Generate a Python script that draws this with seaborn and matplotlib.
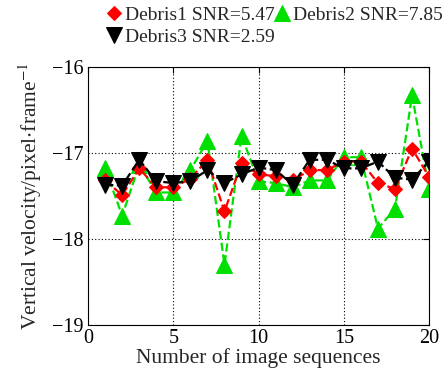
import matplotlib
matplotlib.use("Agg")
import matplotlib.pyplot as plt
import seaborn as sns
import pandas as pd

# Frame index of each image sequence
frames = list(range(1, 21))

# Vertical velocity estimates (pixel/frame) for each debris target
debris1 = [-17.32, -17.49, -17.18, -17.40, -17.40, -17.30, -17.08, -17.68, -17.12, -17.25,
           -17.27, -17.32, -17.20, -17.20, -17.10, -17.10, -17.35, -17.42, -16.95, -17.28]
debris2 = [-17.18, -17.73, -17.14, -17.46, -17.46, -17.20, -16.86, -18.30, -16.80, -17.33,
           -17.35, -17.40, -17.32, -17.32, -17.05, -17.05, -17.88, -17.65, -16.33, -17.42]
debris3 = [-17.37, -17.38, -17.08, -17.33, -17.35, -17.33, -17.20, -17.35, -17.25, -17.17,
           -17.20, -17.37, -17.08, -17.08, -17.18, -17.18, -17.10, -17.29, -17.31, -17.10]

labels = ["Debris1 SNR=5.47", "Debris2 SNR=7.85", "Debris3 SNR=2.59"]

sns.set_theme(style="white")
plt.rcParams["font.family"] = ["Liberation Serif", "DejaVu Serif"]
plt.rcParams["mathtext.fontset"] = "stix"

fig = plt.figure(figsize=(4.47, 3.76), dpi=100)
ax = fig.add_axes([0.197, 0.136, 0.763, 0.686])

styles = [
    (debris1, labels[0], "#ff0000", "D", 7, 3),
    (debris2, labels[1], "#00e000", "^", 11, 2),
    (debris3, labels[2], "#000000", "v", 12, 4),
]
for values, name, color, marker, ms, z in styles:
    df = pd.DataFrame({"frame": frames, "velocity": values})
    sns.lineplot(data=df, x="frame", y="velocity", ax=ax, color=color,
                 linestyle="--", linewidth=1.6, marker=marker, markersize=ms,
                 markeredgecolor=color, markerfacecolor=color, label=name,
                 zorder=z)

ax.set_xlim(0, 20)
ax.set_ylim(-19, -16)
ax.set_xticks([0, 5, 10, 15, 20])
ax.set_yticks([-19, -18, -17, -16])
ax.grid(True, color="black", linestyle=(0, (1, 2)), linewidth=0.8)
for side in ["top", "right", "bottom", "left"]:
    ax.spines[side].set_visible(True)
    ax.spines[side].set_color("black")
    ax.spines[side].set_linewidth(0.8)
ax.tick_params(direction="in", length=4, width=0.8, labelsize=14.5,
               top=True, right=True, colors="black", pad=3)
ax.set_xlabel("Number of image sequences", fontsize=15.5, labelpad=0)
ax.set_ylabel(r"Vertical velocity/pixel$\cdot$frame$^{-1}$", fontsize=15.5, labelpad=6)

# Row-wise legend: Debris1, Debris2 on the first row, Debris3 below
handles, labs = ax.get_legend_handles_labels()
order = [0, 2, 1]
ax.legend([handles[i] for i in order], [labs[i] for i in order],
          loc="lower left", bbox_to_anchor=(-0.01, 1.0),
          ncol=2, frameon=False, fontsize=14.0, handlelength=0.8,
          handletextpad=0.15, columnspacing=0.0, borderaxespad=1.1,
          labelspacing=0.2, borderpad=0.0)
for line in ax.get_legend().get_lines():
    line.set_linestyle("none")

fig.savefig("out.png", dpi=100)
